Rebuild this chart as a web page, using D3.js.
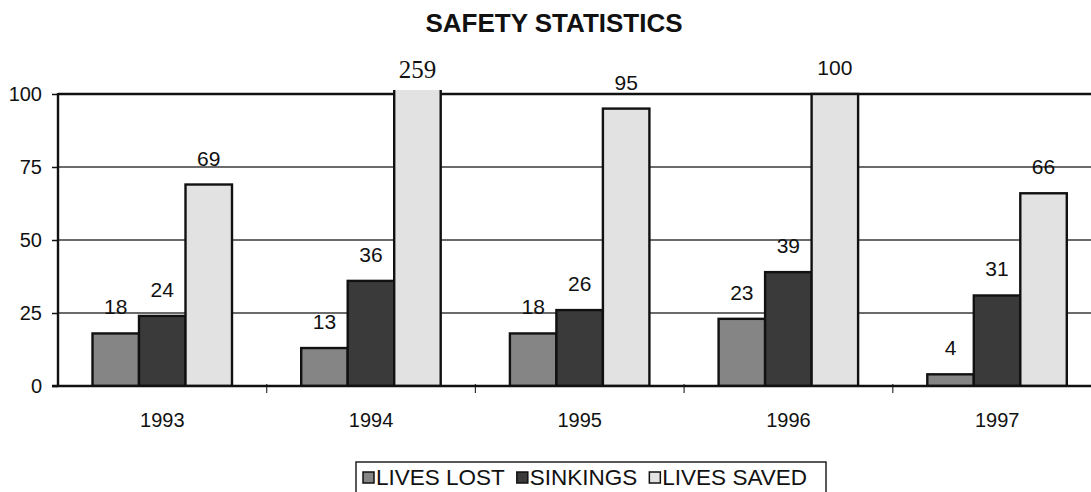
<!DOCTYPE html>
<html>
<head>
<meta charset="utf-8">
<script src="https://cdn.jsdelivr.net/npm/d3@7"></script>
<style>
  body { margin: 0; background: #fff; }
  text { font-family: "Liberation Sans", Arial, sans-serif; fill: #111; }
</style>
</head>
<body>
<div id="chart"></div>
<script>
var years = ['1993', '1994', '1995', '1996', '1997'];
var seriesNames = ['LIVES LOST', 'SINKINGS', 'LIVES SAVED'];
var livesLost = [18, 13, 18, 23, 4];
var sinkings = [24, 36, 26, 39, 31];
var livesSaved = [69, 259, 95, 100, 66];
var yTicks = [0, 25, 50, 75, 100];
var colors = ['#858585', '#3a3a3a', '#e2e2e2'];

var W = 1091, H = 492;
var plotLeft = 58, plotTop = 94, plotBottom = 386;
var bandW = 208.7;

var series = [livesLost, sinkings, livesSaved];
var yMax = d3.max(yTicks);

var xScale = d3.scaleBand()
  .domain(years)
  .range([plotLeft, plotLeft + bandW * years.length]);

var xInner = d3.scaleBand()
  .domain(seriesNames)
  .range([34.5, 34.5 + 139.5]);

var yScale = d3.scaleLinear()
  .domain([0, yMax])
  .range([plotBottom, plotTop]);

var svg = d3.select('#chart').append('svg')
  .attr('width', W)
  .attr('height', H)
  .style('background', '#fff');

// title
svg.append('text')
  .attr('x', 554)
  .attr('y', 32)
  .attr('text-anchor', 'middle')
  .style('font-size', '26px')
  .style('font-weight', 'bold')
  .text('SAFETY STATISTICS');

// gridlines
svg.append('g').selectAll('line')
  .data(yTicks.filter(function(d){ return d > 0 && d < yMax; }))
  .enter().append('line')
    .attr('x1', plotLeft).attr('x2', W)
    .attr('y1', function(d){ return yScale(d); })
    .attr('y2', function(d){ return yScale(d); })
    .style('stroke', '#3a3a3a')
    .style('stroke-width', 1.4);

// top border of plot
svg.append('line')
  .attr('x1', plotLeft).attr('x2', W)
  .attr('y1', yScale(yMax)).attr('y2', yScale(yMax))
  .style('stroke', '#111').style('stroke-width', 2.4);

svg.append('clipPath').attr('id', 'plotclip')
  .append('rect')
  .attr('x', plotLeft).attr('y', yScale(yMax) - 4)
  .attr('width', W - plotLeft).attr('height', plotBottom - yScale(yMax) + 4);

// flatten into bar records
var bars = [];
years.forEach(function(yr, i){
  seriesNames.forEach(function(name, s){
    bars.push({year: yr, name: name, s: s, value: series[s][i]});
  });
});

svg.append('g')
  .attr('clip-path', 'url(#plotclip)')
  .selectAll('rect').data(bars)
  .enter().append('rect')
    .attr('x', function(d){ return xScale(d.year) + xInner(d.name); })
    .attr('width', xInner.bandwidth())
    .attr('y', function(d){ return d.value > yMax ? yScale(yMax) - 6 : yScale(d.value); })
    .attr('height', function(d){ return plotBottom - (d.value > yMax ? yScale(yMax) - 6 : yScale(d.value)); })
    .style('fill', function(d){ return colors[d.s]; })
    .style('stroke', '#111')
    .style('stroke-width', 2.4);

// value labels
svg.append('g').selectAll('text').data(bars)
  .enter().append('text')
    .attr('x', function(d){ return xScale(d.year) + xInner(d.name) + xInner.bandwidth() / 2; })
    .attr('y', function(d){ return d.value > yMax ? yScale(yMax) - 16 : yScale(d.value) - 19; })
    .attr('text-anchor', 'middle')
    .style('font-size', function(d){ return d.value > yMax ? '25px' : '21px'; })
    .style('font-family', function(d){ return d.value > yMax ? '"Liberation Serif", "Times New Roman", serif' : null; })
    .text(function(d){ return d.value; });

// y axis
var yAxis = svg.append('g')
  .attr('transform', 'translate(' + plotLeft + ',0)')
  .call(d3.axisLeft(yScale).tickValues(yTicks).tickSize(6).tickPadding(10));
yAxis.select('.domain').remove();
yAxis.selectAll('line').style('stroke', '#111').style('stroke-width', 1.5);
yAxis.selectAll('text').style('font-size', '20px').style('font-family', '"Liberation Sans", Arial, sans-serif').attr('fill', '#111');

svg.append('line')
  .attr('x1', plotLeft).attr('x2', plotLeft)
  .attr('y1', yScale(yMax) - 1).attr('y2', plotBottom)
  .style('stroke', '#111').style('stroke-width', 2.4);

// x axis
var xAxis = svg.append('g')
  .attr('transform', 'translate(0,' + plotBottom + ')')
  .call(d3.axisBottom(xScale).tickSize(0).tickPadding(27));
xAxis.select('.domain').remove();
xAxis.selectAll('text').style('font-size', '20px').style('font-family', '"Liberation Sans", Arial, sans-serif').attr('fill', '#111');

svg.append('g').selectAll('line')
  .data(years.slice(1))
  .enter().append('line')
    .attr('x1', function(d){ return xScale(d); })
    .attr('x2', function(d){ return xScale(d); })
    .attr('y1', plotBottom - 2).attr('y2', plotBottom + 7)
    .style('stroke', '#333').style('stroke-width', 1.2);

svg.append('line')
  .attr('x1', plotLeft - 6).attr('x2', W)
  .attr('y1', plotBottom).attr('y2', plotBottom)
  .style('stroke', '#111').style('stroke-width', 2.6);

// legend
var legend = svg.append('g');
legend.append('rect')
  .attr('x', 356).attr('y', 462)
  .attr('width', 470).attr('height', 50)
  .style('fill', '#fff')
  .style('stroke', '#222').style('stroke-width', 1.5);

var lx = 363;
seriesNames.forEach(function(name, s){
  legend.append('rect')
    .attr('x', lx).attr('y', 472)
    .attr('width', 11).attr('height', 11)
    .style('fill', colors[s])
    .style('stroke', '#111').style('stroke-width', 1.5);
  var t = legend.append('text')
    .attr('x', lx + 13).attr('y', 485)
    .style('font-size', '22.5px')
    .text(name);
  lx += 13 + t.node().getComputedTextLength() + 12;
});
</script>
</body>
</html>
